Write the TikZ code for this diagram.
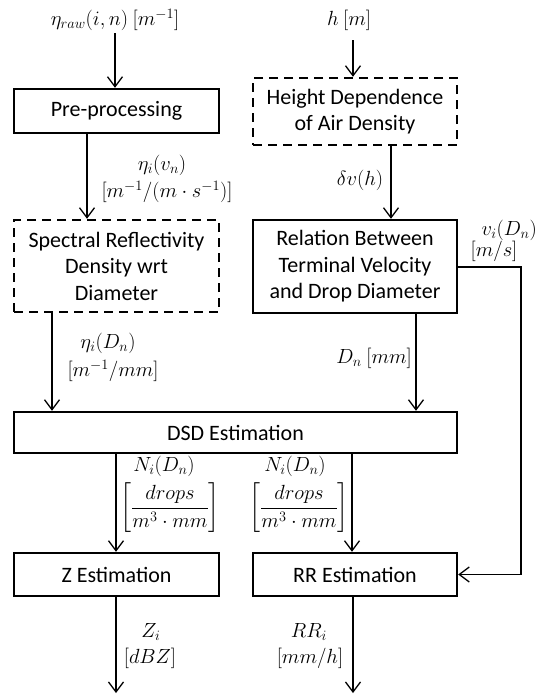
\documentclass[tikz,border=0pt]{standalone}
\usepackage{fix-cm}
\usepackage{amsmath}
\usepackage{fontspec}
\setmainfont{Carlito}
\usetikzlibrary{arrows.meta}
\begin{document}
\begin{tikzpicture}[x=1pt,y=-1pt,
 box/.style={draw, line width=2.4pt, align=center, inner sep=0pt, font=\fontsize{22}{26.5}\selectfont},
 dbox/.style={box, dash pattern=on 9pt off 6pt},
 flow/.style={line width=1.3pt, -{Straight Barb[length=10pt,width=15pt,line width=1.3pt]}},
 lab/.style={font=\fontsize{20.5}{26}\selectfont, align=center, inner sep=0pt}]
\useasboundingbox (0,0) rectangle (538,694);
% boxes
\node[box, minimum width=205pt, minimum height=44pt] (pre) at (116.5,111) {Pre-processing};
\node[dbox, minimum width=204pt, minimum height=67pt] (hd) at (355,111.5) {Height Dependence\\of Air Density};
\node[dbox, minimum width=205pt, minimum height=92pt] (spec) at (116.5,266) {Spectral Reflectivity\\Density wrt\\Diameter};
\node[box, minimum width=204pt, minimum height=93pt] (rel) at (355,266.5) {Relation Between\\Terminal Velocity\\and Drop Diameter};
\node[box, minimum width=443pt, minimum height=41pt] (dsd) at (235.5,432.5) {DSD Estimation};
\node[box, minimum width=205pt, minimum height=43pt] (z) at (116.5,574.5) {Z Estimation};
\node[box, minimum width=204pt, minimum height=43pt] (rr) at (355,574.5) {RR Estimation};
% free ends
\coordinate (rawin) at (115,33);
\coordinate (hin) at (353,40);
\coordinate (zout) at (116,693);
\coordinate (rrout) at (353,693);
\coordinate (vc) at (521,267);
% connectors
\draw[flow] (rawin) -- (rawin |- pre.north);
\draw[flow] (hin) -- (hin |- hd.north);
\draw[flow] ([xshift=-29.5pt]pre.south) -- ([xshift=-29.5pt]spec.north);
\draw[flow] ([xshift=36pt]hd.south) -- ([xshift=36pt]rel.north);
\draw[flow] ([xshift=-64.5pt]spec.south) -- ([xshift=-64.5pt]spec.south |- dsd.north);
\draw[flow] ([xshift=61pt]rel.south) -- ([xshift=61pt]rel.south |- dsd.north);
\draw[flow] ([xshift=-0.5pt]z.north |- dsd.south) -- ([xshift=-0.5pt]z.north);
\draw[flow] ([xshift=-3pt]rr.north |- dsd.south) -- ([xshift=-3pt]rr.north);
\draw[flow] (rel.east |- vc) -- (vc) |- (rr.east);
\draw[flow] ([xshift=-0.5pt]z.south) -- (zout);
\draw[flow] ([xshift=-2pt]rr.south) -- (rrout);
% labels
\node[lab] (l1) at (115,20) {$\eta_{raw}(i,n)\ [m^{-1}]$};
\node[lab] (l2) at (349,20) {$h\ [m]$};
\node[lab] (l3a) at (162,165) {$\eta_i(v_n)$};
\node[lab] (l3b) at (167,192) {$[m^{-1}/(m\cdot s^{-1})]$};
\node[lab] (l4) at (360,180) {$\delta v(h)$};
\node[lab, anchor=east] (l5) at (537,230) {$v_i(D_n)$};
\node[lab] (l6) at (494,251) {$[m/s]$};
\node[lab] (l7a) at (108,343) {$\eta_i(D_n)$};
\node[lab] (l7b) at (113,371) {$[m^{-1}/mm]$};
\node[lab, anchor=east] (l8) at (412,358) {$D_n\ [mm]$};
\node[lab] (l9a) at (164,466) {$N_i(D_n)$};
\node[lab] (l9b) at (170,508) {$\left[\dfrac{drops}{m^3\cdot mm}\right]$};
\node[lab] (l10a) at (295,466) {$N_i(D_n)$};
\node[lab] (l10b) at (299,508) {$\left[\dfrac{drops}{m^3\cdot mm}\right]$};
\node[lab] (l11a) at (151,632) {$Z_i$};
\node[lab] (l11b) at (150,658) {$[dBZ]$};
\node[lab] (l12a) at (309,632) {$RR_i$};
\node[lab] (l12b) at (310,658) {$[mm/h]$};
\end{tikzpicture}
\end{document}
